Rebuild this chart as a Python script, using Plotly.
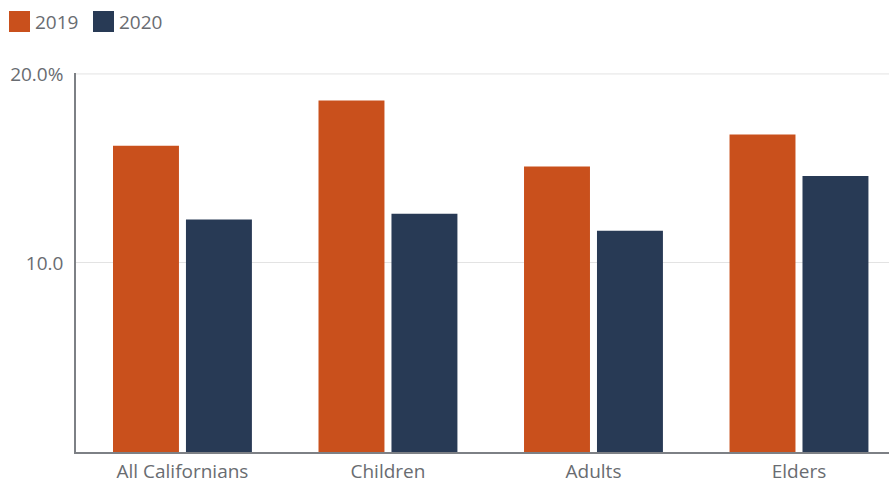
import plotly.graph_objects as go

# Share of population by group, 2019 vs 2020 (percent)
categories = ["All Californians", "Children", "Adults", "Elders"]
series_names = ["2019", "2020"]
values_2019 = [16.2, 18.6, 15.1, 16.8]
values_2020 = [12.3, 12.6, 11.7, 14.6]
tick_values = [10, 20]
tick_labels = ["10.0", "20.0%"]

colors = ["#C9501C", "#283A55"]
text_gray = "#696c71"
font_family = "'Open Sans', Lato, sans-serif"
font_size = 19

fig = go.Figure()
for name, vals, col in zip(series_names, [values_2019, values_2020], colors):
    fig.add_trace(go.Bar(
        x=list(range(len(categories))), y=vals, name=name,
        marker=dict(color=col, line=dict(width=0)),
        showlegend=False,
    ))

fig.update_layout(
    width=889, height=485,
    margin=dict(l=76, r=0, t=73, b=33),
    paper_bgcolor="white", plot_bgcolor="white",
    barmode="group", bargap=0.29, bargroupgap=0.096,
    font=dict(family=font_family, size=font_size, color=text_gray),
)

fig.update_xaxes(
    range=[-0.518, 3.438],
    tickvals=list(range(len(categories))), ticktext=categories,
    showgrid=False, zeroline=False,
    showline=True, linecolor="#7d8085", linewidth=1.5,
    ticks="", ticklabelstandoff=1,
    tickfont=dict(size=font_size, color=text_gray),
)
fig.update_yaxes(
    range=[0, 20.05],
    tickvals=tick_values, ticktext=tick_labels,
    showgrid=True, gridcolor="#e3e3e3", gridwidth=1,
    zeroline=False,
    showline=True, linecolor="#7d8085", linewidth=1.5,
    ticks="", ticklabelstandoff=7,
    tickfont=dict(size=font_size, color=text_gray),
)

# Top gridline at the upper tick, drawn under the bars
fig.add_shape(
    type="line", xref="paper", yref="y",
    x0=0, x1=1, y0=tick_values[-1], y1=tick_values[-1],
    line=dict(color="#e3e3e3", width=1), layer="below",
)

# Legend: colour squares with year labels across the top left
plot_h = 485 - 73 - 33
legend_x = [9, 93]
for name, col, x0 in zip(series_names, colors, legend_x):
    fig.add_shape(
        type="rect", xref="paper", yref="paper",
        x0=(x0 - 76) / 813, x1=(x0 + 21 - 76) / 813,
        y0=(452 - 32) / plot_h, y1=(452 - 11) / plot_h,
        fillcolor=col, line=dict(width=0), layer="above",
    )
    fig.add_annotation(
        xref="paper", yref="paper",
        x=(x0 + 24 - 76) / 813, y=(452 - 21.5) / plot_h,
        text=name, showarrow=False, xanchor="left", yanchor="middle",
        font=dict(size=font_size, color=text_gray, family=font_family),
    )

fig.write_html("out.html")
